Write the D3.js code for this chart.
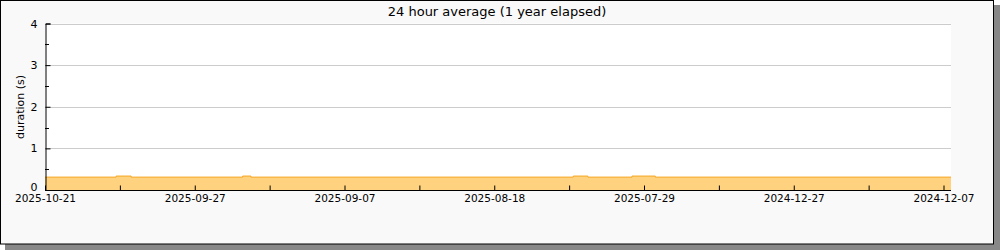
<!DOCTYPE html>
<html><head><meta charset="utf-8">
<script src="https://cdn.jsdelivr.net/npm/d3@7"></script>
<style>body{margin:0;background:#fff}svg{display:block;font-family:"DejaVu Sans",sans-serif}</style>
</head><body><svg id="c" width="1000" height="250"></svg>
<script>
// tick labels along the x axis (every other tick is labelled)
const xTickLabels = ["2025-10-21","","2025-09-27","","2025-09-07","","2025-08-18","","2025-07-29","","2024-12-27","","2024-12-07"];
// sample positions (in tick units) where the 24h average changes, and its value (s)
const samplePos = [0, 0.95, 1.15, 2.64, 2.75, 7.055, 7.25, 7.84, 8.15, 12.1];
const duration  = [0.31, 0.335, 0.31, 0.335, 0.31, 0.335, 0.31, 0.335, 0.31, 0.31];
const yTicks = [0, 1, 2, 3, 4];
const yMinor = [0.5, 1.5, 2.5, 3.5];
const title = "24 hour average (1 year elapsed)";
const yTitle = "duration (s)";

const svg = d3.select("#c");
// shadow + frame
svg.append("rect").attr("x",5).attr("y",5).attr("width",995).attr("height",245).attr("fill","#888");
svg.append("rect").attr("x",0.5).attr("y",0.5).attr("width",993).attr("height",243.5).attr("fill","#f9f9f9").attr("stroke","#000");

const L=45, R=951, T=23.5, B=190;
const x = d3.scaleLinear().domain([0, 12.1]).range([L, R]);
const y = d3.scaleLinear().domain([0, 4]).range([B, T]);

svg.append("rect").attr("x",L).attr("y",T).attr("width",R-L).attr("height",B-T).attr("fill","#fff");

// grid
svg.append("g").selectAll("line").data(yTicks.filter(d=>d>0)).join("line")
  .attr("x1",L).attr("x2",R).attr("y1",d=>Math.round(y(d))+0.5).attr("y2",d=>Math.round(y(d))+0.5)
  .attr("stroke","#ccc");

const data = samplePos.map((p,i)=>({p, v:duration[i]}));
svg.append("path").datum(data)
  .attr("d", d3.area().x(d=>x(d.p)).y0(y(0)).y1(d=>y(d.v)).curve(d3.curveStepAfter))
  .attr("fill","#ffd27f");
svg.append("path").datum(data)
  .attr("d", d3.line().x(d=>x(d.p)).y(d=>y(d.v)).curve(d3.curveStepAfter))
  .attr("fill","none").attr("stroke","#f5a623").attr("stroke-width",1);

// y axis
const yAxis = d3.axisLeft(y).tickValues(yTicks).tickSize(-5).tickPadding(8).tickFormat(d3.format("d"));
const gy = svg.append("g").attr("transform",`translate(${L+0.5},0)`).call(yAxis);
gy.select(".domain").attr("stroke","#000");
gy.selectAll(".tick line").attr("stroke","#000");
gy.selectAll("text").attr("font-size",11).attr("fill","#000").attr("font-family","DejaVu Sans");
gy.selectAll(".tick").filter(d=>d===0).select("text").attr("y",-3.5);
svg.append("g").selectAll("line").data(yMinor).join("line")
  .attr("x1",L).attr("x2",L+4).attr("y1",d=>Math.round(y(d))+0.5).attr("y2",d=>Math.round(y(d))+0.5).attr("stroke","#000");

// x axis
const xAxis = d3.axisBottom(x).tickValues(d3.range(xTickLabels.length)).tickSize(-5).tickPadding(4)
  .tickFormat((d,i)=>xTickLabels[i]);
const gx = svg.append("g").attr("transform",`translate(0,${B+0.5})`).call(xAxis);
gx.select(".domain").attr("stroke","#000").attr("d",`M${L},0H${R}`);
gx.selectAll(".tick line").attr("stroke","#000");
gx.selectAll("text").attr("font-size",10.5).attr("fill","#000").attr("font-family","DejaVu Sans");

// titles
svg.append("text").attr("x",497).attr("y",16).attr("text-anchor","middle").attr("font-size",13).text(title);
svg.append("text").attr("transform",`translate(24,107) rotate(-90)`).attr("text-anchor","middle").attr("font-size",11).text(yTitle);
</script></body></html>
